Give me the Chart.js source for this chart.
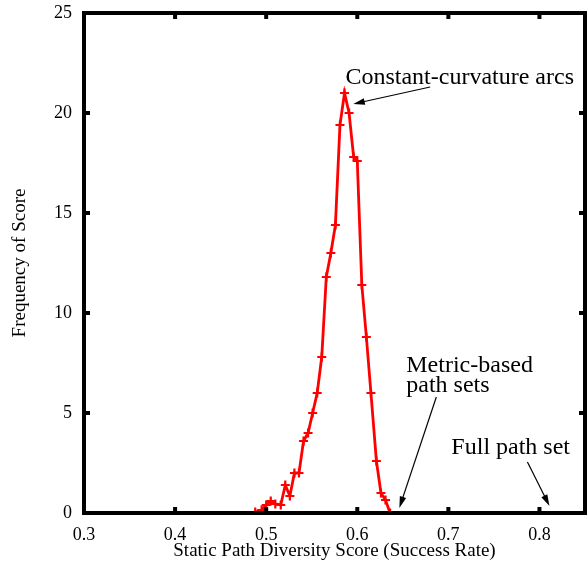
<!DOCTYPE html>
<html>
<head>
<meta charset="utf-8">
<script src="https://cdn.jsdelivr.net/npm/chart.js@4"></script>
<style>
  body { margin: 0; background: #fff; }
  #wrap { width: 588px; height: 570px; }
</style>
</head>
<body>
<div id="wrap"><canvas id="chart" width="588" height="570"></canvas></div>
<script>
// scores and frequency
const scores = [0.488, 0.495, 0.500, 0.505, 0.510, 0.516, 0.521, 0.526, 0.531, 0.536,
  0.541, 0.546, 0.551, 0.556, 0.561, 0.566, 0.571, 0.576, 0.581, 0.586,
  0.591, 0.596, 0.600, 0.605, 0.610, 0.615, 0.621, 0.626, 0.631, 0.636];
const frequency = [0.05, 0.15, 0.4, 0.6, 0.45, 0.4, 1.4, 0.85, 2.0, 2.0,
  3.6, 4.0, 5.0, 6.0, 7.8, 11.8, 13.0, 14.4, 19.4, 21.0,
  20.0, 17.8, 17.6, 11.4, 8.8, 6.0, 2.6, 1.0, 0.65, 0.0];
const xTicks = [0.3, 0.4, 0.5, 0.6, 0.7, 0.8];
const yTicks = [0, 5, 10, 15, 20, 25];

// text notes with arrows (in data units)
const notes = [
  { lines: ["Constant-curvature arcs"], x: 0.587, y: 21.75, from: [0.680, 21.3], to: [0.5956, 20.45] },
  { lines: ["Metric-based", "path sets"], x: 0.6538, y: 7.35, from: [0.6868, 5.8], to: [0.6462, 0.25] },
  { lines: ["Full path set"], x: 0.7033, y: 3.25, from: [0.7868, 2.55], to: [0.811, 0.35] }
];

const points = scores.map((s, i) => ({ x: s, y: frequency[i] }));

const framePlugin = {
  id: "frame",
  afterDatasetsDraw(chart) {
    const { ctx, chartArea: a, scales } = chart;
    ctx.save();
    ctx.fillStyle = "#000";
    // inward ticks on all four sides
    xTicks.forEach(v => {
      const px = scales.x.getPixelForValue(v);
      ctx.fillRect(px - 2, a.bottom - 6, 4, 6);
      ctx.fillRect(px - 2, a.top, 4, 6);
    });
    yTicks.forEach(v => {
      const py = scales.y.getPixelForValue(v);
      ctx.fillRect(a.left, py - 2, 6, 4);
      ctx.fillRect(a.right - 6, py - 2, 6, 4);
    });
    ctx.lineWidth = 4;
    ctx.strokeStyle = "#000";
    ctx.strokeRect(a.left, a.top, a.right - a.left, a.bottom - a.top);

    // notes
    ctx.font = "24px 'Liberation Serif', 'DejaVu Serif', serif";
    ctx.textAlign = "left";
    ctx.textBaseline = "middle";
    notes.forEach(n => {
      const tx = scales.x.getPixelForValue(n.x);
      const ty = scales.y.getPixelForValue(n.y);
      n.lines.forEach((t, i) => ctx.fillText(t, tx, ty + i * 20));
      const x1 = scales.x.getPixelForValue(n.from[0]), y1 = scales.y.getPixelForValue(n.from[1]);
      const x2 = scales.x.getPixelForValue(n.to[0]), y2 = scales.y.getPixelForValue(n.to[1]);
      const ang = Math.atan2(y2 - y1, x2 - x1);
      ctx.lineWidth = 1.2;
      ctx.beginPath();
      ctx.moveTo(x1, y1);
      ctx.lineTo(x2 - 8 * Math.cos(ang), y2 - 8 * Math.sin(ang));
      ctx.stroke();
      ctx.beginPath();
      ctx.moveTo(x2, y2);
      ctx.lineTo(x2 - 12 * Math.cos(ang - 0.28), y2 - 12 * Math.sin(ang - 0.28));
      ctx.lineTo(x2 - 12 * Math.cos(ang + 0.28), y2 - 12 * Math.sin(ang + 0.28));
      ctx.closePath();
      ctx.fill();
    });
    ctx.restore();
  }
};

const serif = "'Liberation Serif', 'DejaVu Serif', serif";

new Chart(document.getElementById("chart"), {
  type: "scatter",
  data: {
    datasets: [{
      data: points,
      showLine: true,
      borderColor: "#ff0000",
      borderWidth: 2.8,
      pointStyle: "cross",
      pointRadius: 4.5,
      pointBorderWidth: 2.2,
      pointBorderColor: "#ff0000",
      pointBackgroundColor: "#ff0000",
      tension: 0
    }]
  },
  options: {
    responsive: false,
    animation: false,
    layout: { autoPadding: false, padding: { top: 13, right: 3, left: 0, bottom: 0 } },
    plugins: { legend: { display: false }, tooltip: { enabled: false } },
    scales: {
      x: {
        type: "linear",
        min: 0.3,
        max: 0.85,
        afterBuildTicks: s => { s.ticks = xTicks.map(v => ({ value: v })); },
        afterFit: s => { s.height = 57; s.paddingLeft = 0; s.paddingRight = 0; },
        grid: { display: false, drawTicks: false },
        border: { display: false },
        ticks: {
          color: "#000",
          padding: 11,
          font: { family: serif, size: 18 },
          callback: v => v.toFixed(1)
        },
        title: {
          display: true,
          text: "Static Path Diversity Score (Success Rate)",
          color: "#000",
          font: { family: serif, size: 19 },
          padding: { top: 0, bottom: 8 }
        }
      },
      y: {
        min: 0,
        max: 25,
        afterBuildTicks: s => { s.ticks = yTicks.map(v => ({ value: v })); },
        afterFit: s => { s.width = 84; s.paddingTop = 0; s.paddingBottom = 0; },
        grid: { display: false, drawTicks: false },
        border: { display: false },
        ticks: {
          color: "#000",
          padding: 12,
          font: { family: serif, size: 18 }
        },
        title: {
          display: true,
          text: "Frequency of Score",
          color: "#000",
          font: { family: serif, size: 19 },
          padding: { top: 9, bottom: 0 }
        }
      }
    }
  },
  plugins: [framePlugin]
});
</script>
</body>
</html>
